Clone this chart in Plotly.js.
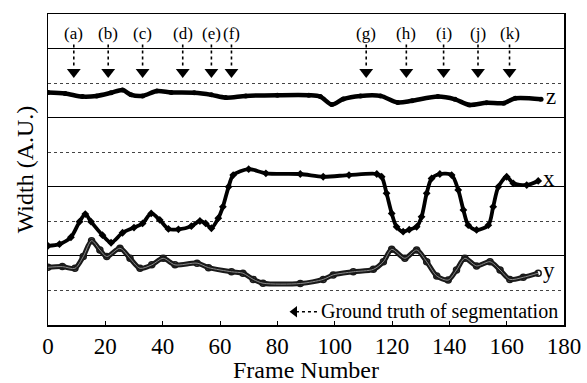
<!DOCTYPE html>
<html>
<head>
<meta charset="utf-8">
<script src="https://cdn.plot.ly/plotly-3.0.1.min.js"></script>
<style>html,body{margin:0;padding:0;background:#fff;}#chart{width:587px;height:383px;}</style>
</head>
<body>
<div id="chart"></div>
<script>
// ---- data (frame number, width in arbitrary units) ----
const zFrames = [0, 6, 12, 17, 22, 26, 29, 33, 38, 43, 51, 57, 62, 69, 80, 91, 95, 99, 103, 109, 116, 122, 127, 136, 142, 147, 153, 159, 163, 172];
const zWidth  = [6.73, 6.70, 6.61, 6.63, 6.72, 6.80, 6.66, 6.63, 6.77, 6.73, 6.72, 6.66, 6.58, 6.63, 6.65, 6.65, 6.61, 6.38, 6.54, 6.63, 6.63, 6.44, 6.49, 6.61, 6.53, 6.37, 6.43, 6.42, 6.56, 6.53];

const xFrames = [0, 4, 8, 11, 13, 15, 19, 22, 26, 30, 33, 36, 39, 42, 45.5, 50, 53, 55, 57, 59.4, 61, 63, 64.6, 70, 76, 88, 96, 105, 114.7, 116.4, 118.1, 119.9, 121.6, 123.9, 126, 128.6, 130.3, 132.1, 133.8, 136.7, 140.8, 143.1, 144.9, 146.6, 149.5, 153.6, 155.3, 157.1, 160, 162.3, 167, 171];
const xWidth  = [2.29, 2.34, 2.54, 2.99, 3.21, 2.99, 2.60, 2.38, 2.67, 2.82, 2.94, 3.23, 3.04, 2.78, 2.77, 2.86, 3.01, 2.94, 2.80, 3.09, 3.42, 4.00, 4.34, 4.51, 4.39, 4.37, 4.29, 4.34, 4.37, 4.29, 3.81, 3.23, 2.84, 2.70, 2.76, 2.84, 3.13, 3.81, 4.24, 4.37, 4.34, 3.91, 3.33, 2.89, 2.75, 2.89, 3.42, 4.00, 4.29, 4.10, 4.05, 4.17];

const yFrames = [0, 5, 9.4, 12.3, 15.2, 18.1, 20.5, 25.1, 28.6, 32.1, 36.2, 40.2, 44.3, 52, 56, 64, 68, 71.6, 75, 88, 96, 99.5, 106.5, 113.5, 117, 119.9, 124.5, 128.6, 132.1, 135.6, 139.6, 142.5, 145.4, 149.5, 154.2, 157.7, 161.1, 165.8, 171];
const yWidth  = [1.67, 1.69, 1.64, 1.98, 2.44, 2.17, 1.98, 2.22, 1.93, 1.64, 1.74, 1.93, 1.74, 1.79, 1.66, 1.54, 1.50, 1.32, 1.21, 1.20, 1.32, 1.45, 1.54, 1.61, 1.83, 2.19, 1.93, 2.17, 1.83, 1.42, 1.30, 1.59, 1.93, 1.71, 1.83, 1.59, 1.32, 1.38, 1.50];

const seriesNames = ['z', 'x', 'y'];
const eventLabels = ['(a)', '(b)', '(c)', '(d)', '(e)', '(f)', '(g)', '(h)', '(i)', '(j)', '(k)'];
const eventFrames = [9, 21, 33, 47, 57, 64, 111, 125, 138, 150, 161];
const legendText = 'Ground truth of segmentation';
const xTicks = [0, 20, 40, 60, 80, 100, 120, 140, 160, 180];

// ---- styling constants ----
const FONT = 'Liberation Serif, Times New Roman, serif';
const LABEL_Y = 8.44, ARROW_TOP = 8.12, ARROW_BOT = 7.44, HEAD_Y = 7.32;
const LEG_Y = 0.385;

const traces = [];
// event arrows: dotted shafts
eventFrames.forEach(f => {
  traces.push({x: [f, f], y: [ARROW_TOP, ARROW_BOT], mode: 'lines', line: {color: '#000', width: 1.6, dash: 'dot'}, hoverinfo: 'skip', showlegend: false});
});
// arrow heads
traces.push({x: eventFrames, y: eventFrames.map(() => HEAD_Y), mode: 'markers', marker: {symbol: 'triangle-down', size: 12, color: '#000'}, showlegend: false, hoverinfo: 'skip'});

// z series
traces.push({x: zFrames, y: zWidth, mode: 'lines+markers', line: {color: '#000', width: 4.5, shape: 'spline', smoothing: 0.8}, marker: {symbol: 'circle', size: 5, color: '#000'}, showlegend: false});
// x series
traces.push({x: xFrames, y: xWidth, mode: 'lines+markers', line: {color: '#000', width: 3.8, shape: 'spline', smoothing: 0.8}, marker: {symbol: 'diamond', size: 6, color: '#000'}, showlegend: false});
// y series (hollow circle look)
traces.push({x: yFrames, y: yWidth, mode: 'lines+markers', line: {color: '#1a1a1a', width: 5, shape: 'spline', smoothing: 0.8}, marker: {symbol: 'circle-open', size: 6, color: '#1a1a1a', line: {width: 1.5}}, showlegend: false});
traces.push({x: yFrames, y: yWidth, mode: 'lines', line: {color: '#8a8a8a', width: 1, shape: 'spline', smoothing: 0.8}, showlegend: false, hoverinfo: 'skip'});

// legend-like note at bottom
traces.push({x: [86.5, 94], y: [LEG_Y, LEG_Y], mode: 'lines', line: {color: '#000', width: 1.4, dash: 'dot'}, showlegend: false, hoverinfo: 'skip'});
traces.push({x: [86], y: [LEG_Y], mode: 'markers', marker: {symbol: 'triangle-left', size: 10, color: '#000'}, showlegend: false, hoverinfo: 'skip'});

const annotations = [];
eventLabels.forEach((t, i) => {
  annotations.push({x: eventFrames[i], y: LABEL_Y, text: t, showarrow: false, font: {family: FONT, size: 17, color: '#000'}, xanchor: 'center', yanchor: 'middle'});
});
annotations.push({x: 94.5, y: LEG_Y, text: legendText, showarrow: false, xanchor: 'left', yanchor: 'middle', font: {family: FONT, size: 20, color: '#000'}});
// series end labels
const ends = [[zFrames, zWidth], [xFrames, xWidth], [yFrames, yWidth]];
seriesNames.forEach((n, i) => {
  const fr = ends[i][0], w = ends[i][1];
  annotations.push({x: fr[fr.length - 1] + 1, y: w[w.length - 1] + 0.08, text: n, showarrow: false, xanchor: 'left', yanchor: 'middle', font: {family: FONT, size: 23, color: '#000'}});
});

const layout = {
  width: 587, height: 383,
  margin: {l: 48, r: 23, t: 14, b: 58},
  paper_bgcolor: '#fff', plot_bgcolor: '#fff',
  font: {family: FONT, color: '#000'},
  showlegend: false,
  xaxis: {
    range: [0, 180], tickvals: xTicks, ticktext: xTicks.map(String),
    ticks: 'inside', ticklen: 4, tickcolor: '#000',
    showgrid: false, zeroline: false,
    showline: true, mirror: true, linecolor: '#000', linewidth: 1.5,
    tickfont: {family: FONT, size: 23, color: '#000'},
    title: {text: 'Frame Number', font: {family: FONT, size: 24, color: '#000'}, standoff: 4}
  },
  yaxis: {
    range: [0, 9], tick0: 0, dtick: 2, showticklabels: false, ticks: '',
    showgrid: true, gridcolor: '#000', gridwidth: 1,
    minor: {dtick: 1, showgrid: true, gridcolor: '#444', griddash: 'dot', gridwidth: 1},
    zeroline: false, showline: true, mirror: true, linecolor: '#000', linewidth: 1.5,
    title: {text: 'Width (A.U.)', font: {family: FONT, size: 24, color: '#000'}, standoff: 6}
  },
  annotations: annotations
};

Plotly.newPlot('chart', traces, layout, {displayModeBar: false, staticPlot: true});
</script>
</body>
</html>
